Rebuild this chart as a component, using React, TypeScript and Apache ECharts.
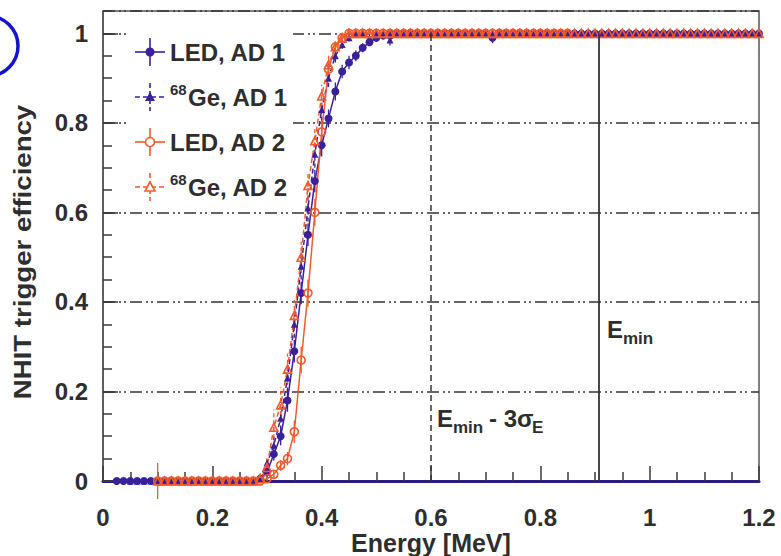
import React, { useEffect, useRef } from "react";
import * as echarts from "echarts";

// Energy grid (MeV)
const energy = [
  0.0125, 0.025, 0.0375, 0.05, 0.0625, 0.075, 0.0875, 0.1,
  0.1125, 0.125, 0.1375, 0.15, 0.1625, 0.175, 0.1875, 0.2,
  0.2125, 0.225, 0.2375, 0.25, 0.2625, 0.275, 0.2875, 0.3,
  0.3125, 0.325, 0.3375, 0.35, 0.3625, 0.375, 0.3875, 0.4,
  0.4125, 0.425, 0.4375, 0.45, 0.4625, 0.475, 0.4875, 0.5,
  0.5125, 0.525, 0.5375, 0.55, 0.5625, 0.575, 0.5875, 0.6,
  0.6125, 0.625, 0.6375, 0.65, 0.6625, 0.675, 0.6875, 0.7,
  0.7125, 0.725, 0.7375, 0.75, 0.7625, 0.775, 0.7875, 0.8,
  0.8125, 0.825, 0.8375, 0.85, 0.8625, 0.875, 0.8875, 0.9,
  0.9125, 0.925, 0.9375, 0.95, 0.9625, 0.975, 0.9875, 1.0,
  1.0125, 1.025, 1.0375, 1.05, 1.0625, 1.075, 1.0875, 1.1,
  1.1125, 1.125, 1.1375, 1.15, 1.1625, 1.175, 1.1875, 1.2,
];

// LED, AD 1
const ledAd1 = [
  null, 0, 0, 0, 0, 0, 0, 0,
  0, 0, 0, 0, 0, 0, 0, 0,
  0, 0, 0, 0, 0, 0, 0.005, 0.02,
  0.06, 0.1, 0.18, 0.29, 0.42, 0.55, 0.67, 0.75,
  0.81, 0.87, 0.915, 0.935, 0.95, 0.968, 0.98, 0.99,
  0.995, 1, 1, 1, 1, 1, 1, 1,
  1, 1, 1, 1, 1, 1, 1, 1,
  0.99, 1, 1, 1, 1, 1, 1, 1,
  1, 1, 1, 1, 1, 1, 1, 1,
  1, 1, 1, 1, 1, 1, 1, 1,
  1, 1, 1, 1, 1, 1, 1, 1,
  1, 1, 1, 1, 1, 1, 1, 1,
];
const ledAd1Err = [
  0.004, 0.004, 0.004, 0.004, 0.004, 0.004, 0.004, 0.004,
  0.004, 0.004, 0.004, 0.004, 0.004, 0.004, 0.004, 0.004,
  0.004, 0.004, 0.004, 0.004, 0.004, 0.004, 0.005, 0.01,
  0.015, 0.02, 0.025, 0.025, 0.025, 0.025, 0.025, 0.025,
  0.02, 0.02, 0.015, 0.015, 0.012, 0.01, 0.008, 0.006,
  0.004, 0.004, 0.004, 0.004, 0.004, 0.004, 0.004, 0.004,
  0.004, 0.004, 0.004, 0.004, 0.004, 0.004, 0.004, 0.004,
  0.012, 0.004, 0.004, 0.004, 0.004, 0.004, 0.004, 0.004,
  0.004, 0.004, 0.004, 0.004, 0.004, 0.004, 0.004, 0.004,
  0.004, 0.004, 0.004, 0.004, 0.004, 0.004, 0.004, 0.004,
  0.004, 0.004, 0.004, 0.004, 0.004, 0.004, 0.004, 0.004,
  0.004, 0.004, 0.004, 0.004, 0.004, 0.004, 0.004, 0.004,
];

// 68Ge, AD 1
const geAd1 = [
  null, null, null, 0, 0, 0, 0, 0,
  0, 0, 0, 0, 0, 0, 0, 0,
  0, 0, 0, 0, 0, 0, 0.01, 0.04,
  0.08, 0.14, 0.23, 0.35, 0.48, 0.61, 0.73, 0.83,
  0.9, 0.95, 0.975, 0.99, 1, 1, 0.99, 1,
  1, 0.985, 1, 1, 1, 1, 1, 1,
  1, 1, 1, 1, 1, 1, 1, 1,
  1, 1, 1, 1, 1, 1, 1, 1,
  1, 1, 1, 1, 1, 1, 1, 1,
  1, 1, 1, 1, 1, 1, 1, 1,
  1, 1, 1, 1, 1, 1, 1, 1,
  1, 1, 1, 1, 1, 1, 1, 1,
];
const geAd1Err = [
  0.004, 0.004, 0.004, 0.004, 0.004, 0.004, 0.004, 0.004,
  0.004, 0.004, 0.004, 0.004, 0.004, 0.004, 0.004, 0.004,
  0.004, 0.004, 0.004, 0.004, 0.004, 0.004, 0.008, 0.015,
  0.02, 0.025, 0.03, 0.03, 0.03, 0.03, 0.03, 0.025,
  0.02, 0.015, 0.01, 0.008, 0.004, 0.004, 0.01, 0.004,
  0.004, 0.012, 0.004, 0.004, 0.004, 0.004, 0.004, 0.004,
  0.004, 0.004, 0.004, 0.004, 0.004, 0.004, 0.004, 0.004,
  0.004, 0.004, 0.004, 0.004, 0.004, 0.004, 0.004, 0.004,
  0.004, 0.004, 0.004, 0.004, 0.004, 0.004, 0.004, 0.004,
  0.004, 0.004, 0.004, 0.004, 0.004, 0.004, 0.004, 0.004,
  0.004, 0.004, 0.004, 0.004, 0.004, 0.004, 0.004, 0.004,
  0.004, 0.004, 0.004, 0.004, 0.004, 0.004, 0.004, 0.004,
];

// LED, AD 2
const ledAd2 = [
  null, null, null, null, null, null, null, 0,
  0, 0, 0, 0, 0, 0, 0, 0,
  0, 0, 0, 0, 0, 0, 0, 0.005,
  0.015, 0.035, 0.05, 0.11, 0.27, 0.42, 0.6, 0.78,
  0.92, 0.97, 0.99, 1, 1, 1, 1, 1,
  1, 1, 1, 1, 1, 1, 1, 1,
  1, 1, 1, 1, 1, 1, 1, 1,
  1, 1, 1, 1, 1, 1, 1, 1,
  1, 1, 1, 1, null, null, null, null,
  null, null, null, null, null, null, null, null,
  null, null, null, null, null, null, null, null,
  null, null, null, null, null, null, null, null,
];
const ledAd2Err = [
  0, 0, 0, 0, 0, 0, 0, 0.04,
  0.004, 0.004, 0.004, 0.004, 0.004, 0.004, 0.004, 0.004,
  0.004, 0.004, 0.004, 0.004, 0.004, 0.004, 0.004, 0.005,
  0.008, 0.012, 0.015, 0.025, 0.03, 0.03, 0.03, 0.025,
  0.015, 0.01, 0.006, 0.004, 0.004, 0.004, 0.004, 0.004,
  0.004, 0.004, 0.004, 0.004, 0.004, 0.004, 0.004, 0.004,
  0.004, 0.004, 0.004, 0.004, 0.004, 0.004, 0.004, 0.004,
  0.004, 0.004, 0.004, 0.004, 0.004, 0.004, 0.004, 0.004,
  0.004, 0.004, 0.004, 0.004, 0, 0, 0, 0,
  0, 0, 0, 0, 0, 0, 0, 0,
  0, 0, 0, 0, 0, 0, 0, 0,
  0, 0, 0, 0, 0, 0, 0, 0,
];

// 68Ge, AD 2
const geAd2 = [
  null, null, null, null, null, null, null, 0,
  0, 0, 0, 0, 0, 0, 0, 0,
  0, 0, 0, 0, 0, 0, 0.005, 0.03,
  0.12, 0.17, 0.25, 0.37, 0.5, 0.66, 0.76, 0.86,
  0.93, 0.97, 0.99, 1, 1, 1, 1, 1,
  1, 1, 1, 1, 1, 1, 1, 1,
  1, 1, 1, 1, 1, 1, 1, 1,
  1, 1, 1, 1, 1, 1, 1, 1,
  1, 1, 1, 1, 1, 1, 1, 1,
  1, 1, 1, 1, 1, 1, 1, 1,
  1, 1, 1, 1, 1, 1, 1, 1,
  1, 1, 1, 1, 1, 1, 1, 1,
];
const geAd2Err = [
  0, 0, 0, 0, 0, 0, 0, 0.004,
  0.004, 0.004, 0.004, 0.004, 0.004, 0.004, 0.004, 0.004,
  0.004, 0.004, 0.004, 0.004, 0.004, 0.004, 0.006, 0.02,
  0.04, 0.04, 0.035, 0.035, 0.035, 0.03, 0.03, 0.025,
  0.02, 0.012, 0.008, 0.004, 0.004, 0.004, 0.004, 0.004,
  0.004, 0.004, 0.004, 0.004, 0.004, 0.004, 0.004, 0.004,
  0.004, 0.004, 0.004, 0.004, 0.004, 0.004, 0.004, 0.004,
  0.004, 0.004, 0.004, 0.004, 0.004, 0.004, 0.004, 0.004,
  0.004, 0.004, 0.004, 0.004, 0.004, 0.004, 0.004, 0.004,
  0.004, 0.004, 0.004, 0.004, 0.004, 0.004, 0.004, 0.004,
  0.004, 0.004, 0.004, 0.004, 0.004, 0.004, 0.004, 0.004,
  0.004, 0.004, 0.004, 0.004, 0.004, 0.004, 0.004, 0.004,
];

// Reference lines (MeV)
const eMin3SigmaLine = 0.6;
const eMinLine = 0.907;

const xTicks = { min: 0, max: 1.2, interval: 0.2 };
const yTicks = { min: 0, max: 1.05, interval: 0.2, minorInterval: 0.05 };

const BLUE = "#3a2099";
const ORANGE = "#f05a2c";
const GRAY = "#3a3a3a";
const TEXT = "#2e2e2e";
const FONT = '"Liberation Sans", Arial, Helvetica, sans-serif';

type Num = number | null;

function pts(vals: Num[]) {
  const out: number[][] = [];
  energy.forEach((e, i) => {
    if (vals[i] != null) out.push([e, vals[i] as number]);
  });
  return out;
}
function errPts(vals: Num[], errs: number[]) {
  const out: number[][] = [];
  energy.forEach((e, i) => {
    if (vals[i] != null) out.push([e, (vals[i] as number) - errs[i], (vals[i] as number) + errs[i]]);
  });
  return out;
}

function errSeries(vals: Num[], errs: number[], color: string, dash: number[] | null) {
  return {
    type: "custom",
    silent: true,
    z: 3,
    data: errPts(vals, errs),
    renderItem: (_p: any, api: any) => {
      const lo = api.coord([api.value(0), api.value(1)]);
      const hi = api.coord([api.value(0), api.value(2)]);
      return {
        type: "line",
        shape: { x1: lo[0], y1: lo[1], x2: hi[0], y2: hi[1] },
        style: { stroke: color, lineWidth: 1.3, lineDash: dash || undefined },
      };
    },
  };
}

function lineSeries(name: string, vals: Num[], color: string, dashed: boolean, symbol: string, hollow: boolean, size: number) {
  return {
    type: "line",
    name,
    data: pts(vals),
    symbol,
    symbolSize: size,
    showAllSymbol: true,
    z: 4,
    lineStyle: { color, width: 1.5, type: dashed ? [5, 3] : "solid" },
    itemStyle: hollow
      ? { color: "rgba(255,255,255,0)", borderColor: color, borderWidth: 1.6 }
      : { color, borderColor: color, borderWidth: 0 },
  };
}

const legendRows = [
  { sup: "", label: "LED, AD 1", color: BLUE, dashed: false, marker: "circle", hollow: false },
  { sup: "68", label: "Ge, AD 1", color: BLUE, dashed: true, marker: "triangle", hollow: false },
  { sup: "", label: "LED, AD 2", color: ORANGE, dashed: false, marker: "circle", hollow: true },
  { sup: "68", label: "Ge, AD 2", color: ORANGE, dashed: true, marker: "triangle", hollow: true },
];
const legendY = [52, 97, 142, 187];

function buildGraphic() {
  const g: any[] = [];
  g.push({
    type: "rect",
    z: 10,
    shape: { x: 127, y: 22, width: 166, height: 184 },
    style: { fill: "#ffffff" },
  });
  legendRows.forEach((r, i) => {
    const y = legendY[i];
    const dash = r.dashed ? [5, 3] : undefined;
    g.push({ type: "line", z: 11, shape: { x1: 135, y1: y, x2: 165, y2: y }, style: { stroke: r.color, lineWidth: 1.6, lineDash: dash } });
    g.push({ type: "line", z: 11, shape: { x1: 150, y1: y - 14, x2: 150, y2: y + 14 }, style: { stroke: r.color, lineWidth: 1.6, lineDash: dash } });
    const mstyle = r.hollow
      ? { fill: "#ffffff", stroke: r.color, lineWidth: 1.6 }
      : { fill: r.color };
    if (r.marker === "circle") {
      g.push({ type: "circle", z: 12, shape: { cx: 150, cy: y, r: 4.5 }, style: mstyle });
    } else {
      g.push({ type: "polygon", z: 12, shape: { points: [[150, y - 5], [155, y + 4], [145, y + 4]] }, style: mstyle });
    }
    let tx = 170;
    if (r.sup) {
      g.push({ type: "text", z: 12, style: { text: r.sup, x: tx, y: y - 8, verticalAlign: "middle", fontFamily: FONT, fontWeight: "bold", fontSize: 15, fill: TEXT } });
      tx += 18;
    }
    g.push({ type: "text", z: 12, style: { text: r.label, x: tx, y, verticalAlign: "middle", fontFamily: FONT, fontWeight: "bold", fontSize: 24, fill: TEXT } });
  });
  // annotations
  const t = (text: string, x: number, y: number, size: number) => ({
    type: "text", z: 12,
    style: { text, x, y, verticalAlign: "middle", fontFamily: FONT, fontWeight: "bold", fontSize: size, fill: TEXT },
  });
  g.push(t("E", 607, 329, 24));
  g.push(t("min", 623, 338, 17));
  g.push(t("E", 437, 418, 24));
  g.push(t("min", 453, 427, 17));
  g.push(t("- 3σ", 489, 418, 24));
  g.push(t("E", 532, 427, 17));
  // axis titles
  g.push({
    type: "text", z: 12,
    style: { text: "Energy [MeV]", x: 431, y: 543, align: "center", verticalAlign: "middle", fontFamily: FONT, fontWeight: "bold", fontSize: 25, fill: TEXT },
  });
  g.push({
    type: "text", z: 12, x: 23, y: 252, rotation: Math.PI / 2, scaleX: 1.15,
    style: { text: "NHIT trigger efficiency", x: 0, y: 0, align: "center", verticalAlign: "middle", fontFamily: FONT, fontWeight: "bold", fontSize: 24, fill: TEXT },
  });
  // blue arc at top-left
  g.push({
    type: "ellipse", z: 12,
    shape: { cx: -12, cy: 46, rx: 30, ry: 30 },
    style: { fill: "none", stroke: "#1414cc", lineWidth: 3.5 },
  });
  return g;
}

export default function App() {
  const ref = useRef<HTMLDivElement>(null);
  useEffect(() => {
    if (!ref.current) return;
    const chart = echarts.init(ref.current, null, { renderer: "svg" });
    const tickLabel = { fontFamily: FONT, fontWeight: "bold", fontSize: 24, color: TEXT };
    chart.setOption({
      animation: false,
      backgroundColor: "#ffffff",
      grid: { left: 103, top: 11, width: 656, height: 470, show: true, borderColor: "#555", borderWidth: 1.5 },
      xAxis: [
        {
          type: "value",
          min: xTicks.min,
          max: xTicks.max,
          interval: xTicks.interval,
          axisLine: { show: true, onZero: false, lineStyle: { color: "#2c1d7e", width: 3 } },
          axisTick: { show: true, inside: true, length: 15, lineStyle: { color: GRAY, width: 1.5 } },
          minorTick: { show: true, splitNumber: 4, length: 9, lineStyle: { color: GRAY, width: 1.5 } },
          axisLabel: { ...tickLabel, margin: 24 },
          splitLine: { show: false },
        },
      ],
      yAxis: [
        {
          type: "value",
          position: "left",
          min: yTicks.min,
          max: yTicks.max,
          interval: yTicks.interval,
          axisLine: { show: true, lineStyle: { color: "#555", width: 1.5 } },
          axisTick: { show: true, inside: true, length: 15, lineStyle: { color: GRAY, width: 1.5 } },
          axisLabel: { ...tickLabel, margin: 15, showMaxLabel: false },
          splitLine: { show: true, lineStyle: { color: "#333", width: 1.5, type: [12, 4, 2, 3, 2, 4] } },
        },
        {
          type: "value",
          position: "left",
          min: yTicks.min,
          max: yTicks.max,
          interval: yTicks.minorInterval,
          axisLine: { show: false },
          axisTick: { show: true, inside: true, length: 9, lineStyle: { color: GRAY, width: 1.5 } },
          axisLabel: { show: false },
          splitLine: { show: false },
        },
      ],
      series: [
        errSeries(ledAd1, ledAd1Err, BLUE, null),
        errSeries(geAd1, geAd1Err, BLUE, [4, 3]),
        lineSeries("LED, AD 1", ledAd1, BLUE, false, "circle", false, 8),
        lineSeries("68Ge, AD 1", geAd1, BLUE, true, "triangle", false, 7),
        errSeries(ledAd2, ledAd2Err, ORANGE, null),
        errSeries(geAd2, geAd2Err, ORANGE, [4, 3]),
        lineSeries("LED, AD 2", ledAd2, ORANGE, false, "circle", true, 8),
        {
          ...lineSeries("68Ge, AD 2", geAd2, ORANGE, true, "triangle", true, 8),
          markLine: {
            silent: true,
            symbol: "none",
            label: { show: false },
            data: [
              [{ coord: [eMin3SigmaLine, 0] }, { coord: [eMin3SigmaLine, 1] }],
              [{ coord: [eMinLine, 0] }, { coord: [eMinLine, 1] }],
            ].map((d, i) => [
              { ...d[0], lineStyle: { color: "#333", width: i === 0 ? 1.5 : 1.8, type: i === 0 ? [6, 4] : "solid" } },
              d[1],
            ]),
          },
        },
      ],
      graphic: buildGraphic(),
    });
    return () => chart.dispose();
  }, []);
  return (
    <div
      ref={ref}
      style={{ position: "fixed", left: 0, top: 0, width: 781, height: 556, background: "#fff" }}
    />
  );
}
